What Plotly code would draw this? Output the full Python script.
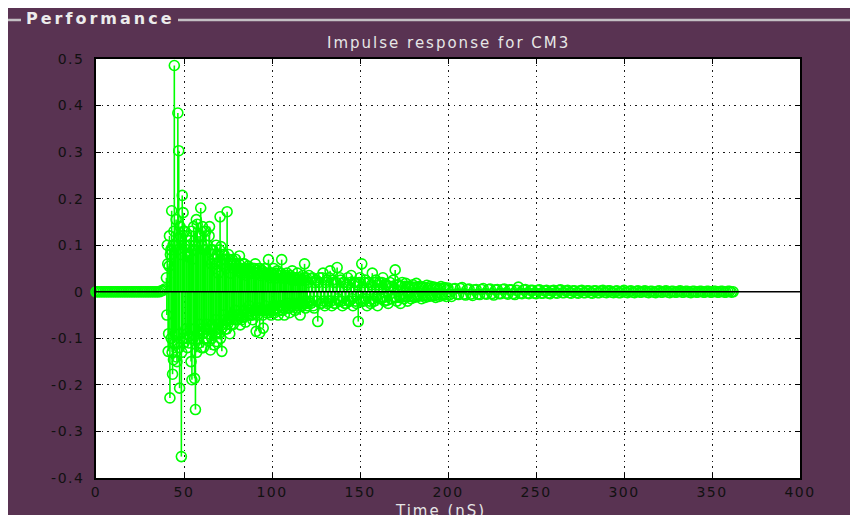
import plotly.graph_objects as go

# ---------------- data ----------------
lead_t = [
    0, 1, 2, 3, 4, 5, 6, 7, 8, 9,
    10, 11, 12, 13, 14, 15, 16, 17, 18, 19,
    20, 21, 22, 23, 24, 25, 26, 27, 28, 29,
    30, 31, 32, 33, 34, 35, 36, 37, 38, 39,
]
lead_amp = [
    0, 0, 0, 0, 0, 0, 0, 0, 0, 0,
    0, 0, 0, 0, 0, 0, 0, 0, 0, 0,
    0, 0, 0, 0, 0, 0, 0, 0, 0, 0,
    0, 0, 0, 0, 0, 0, 0, 0.002, 0.003, 0.006,
]

cluster_t = [
    40.0, 40.5, 41.0, 41.5, 42.0, 42.5, 43.0, 43.5, 44.0, 44.5,
    45.0, 45.5, 46.0, 46.5, 47.0, 47.5, 48.0, 48.5, 49.0, 49.5,
    50.0, 50.5, 51.0, 51.5, 52.0, 52.5, 53.0, 53.5, 54.0, 54.5,
    55.0, 55.5, 56.0, 56.5, 57.0, 57.5, 58.0, 58.5, 59.0, 59.5,
    60.0, 60.5, 61.0, 61.5, 62.0, 62.5, 63.0, 63.5, 64.0, 64.5,
    65.0, 65.5, 66.0, 66.5, 67.0, 67.5, 68.0, 68.5, 69.0, 69.5,
    70.0, 70.5, 71.0, 71.5, 72.0, 72.5, 73.0, 73.5, 74.0, 74.5,
    75.0, 75.5, 76.0, 76.5, 77.0, 77.5, 78.0, 78.5, 79.0, 79.5,
    80.0, 80.5, 81.0, 81.5, 82.0, 82.5, 83.0, 83.5, 84.0, 84.5,
    85.0, 85.5, 86.0, 86.5, 87.0, 87.5, 88.0, 88.5, 89.0, 89.5,
    90.0, 90.5, 91.0, 91.5, 92.0, 92.5, 93.0, 93.5, 94.0, 94.5,
    95.0, 95.5, 96.0, 96.5, 97.0, 97.5, 98.0, 98.5, 99.0, 99.5,
    100.0, 100.5, 101.0, 101.5, 102.0, 102.5, 103.0, 103.5, 104.0, 104.5,
    105.0, 105.5, 106.0, 106.5, 107.0, 107.5, 108.0, 108.5, 109.0, 109.5,
    110.0, 110.5, 111.0, 111.5, 112.0, 112.5, 113.0, 113.5, 114.0, 114.5,
    115.0, 115.5, 116.0, 116.5, 117.0, 117.5, 118.0, 118.5, 119.0, 119.5,
]
cluster_amp = [
    0.03, 0.1, -0.128, 0.055, -0.228, 0.09, 0.174, -0.177, -0.146, 0.486,
    -0.09, 0.155, -0.15, 0.384, 0.303, -0.207, 0.12, -0.354, 0.207, 0.17,
    -0.11, 0.13, -0.08, 0.1, -0.12, 0.075, -0.095, 0.11, -0.15, -0.189,
    0.09, 0.14, -0.186, -0.253, 0.155, 0.145, -0.1, 0.12, -0.07, 0.18,
    -0.12, 0.14, -0.12, 0.09, -0.08, 0.13, -0.1, 0.07, -0.09, 0.14,
    -0.125, 0.06, -0.07, 0.09, -0.114, 0.05, -0.06, -0.107, 0.08, 0.04,
    -0.09, 0.161, 0.097, -0.128, 0.06, -0.05, 0.07, -0.08, 0.05, 0.172,
    -0.06, 0.07, -0.09, 0.04, -0.05, 0.069, -0.07, 0.05, -0.04, 0.06,
    -0.06, 0.045, -0.05, 0.077, -0.071, 0.04, -0.055, 0.06, -0.04, 0.05,
    -0.065, 0.035, -0.045, 0.055, -0.03, 0.045, -0.05, 0.04, -0.06, 0.05,
    -0.04, 0.06, -0.085, 0.04, -0.035, 0.05, -0.088, 0.035, -0.04, 0.045,
    -0.078, 0.04, -0.03, 0.05, -0.045, 0.035, 0.069, -0.04, 0.03, -0.05,
    0.04, -0.03, 0.05, -0.045, 0.03, -0.035, 0.045, -0.05, 0.035, -0.03,
    0.04, 0.069, -0.04, 0.03, -0.05, 0.035, -0.03, 0.04, -0.035, 0.03,
    -0.045, 0.035, -0.03, 0.045, -0.025, 0.03, -0.04, 0.025, -0.035, 0.04,
    -0.03, 0.03, -0.05, 0.025, -0.03, 0.035, -0.025, 0.06, -0.035, 0.03,
]

# in-between samples of the dense cluster
cluster2_t = [
    40.25, 40.75, 41.25, 41.75, 42.25, 42.75, 43.25, 43.75, 44.25, 44.75,
    45.25, 45.75, 46.25, 46.75, 47.25, 47.75, 48.25, 48.75, 49.25, 49.75,
    50.25, 50.75, 51.25, 51.75, 52.25, 52.75, 53.25, 53.75, 54.25, 54.75,
    55.25, 55.75, 56.25, 56.75, 57.25, 57.75, 58.25, 58.75, 59.25, 59.75,
    60.25, 60.75, 61.25, 61.75, 62.25, 62.75, 63.25, 63.75, 64.25, 64.75,
    65.25, 65.75, 66.25, 66.75, 67.25, 67.75, 68.25, 68.75, 69.25, 69.75,
    70.25, 70.75, 71.25, 71.75, 72.25, 72.75, 73.25, 73.75, 74.25, 74.75,
    75.25, 75.75, 76.25, 76.75, 77.25, 77.75, 78.25, 78.75, 79.25, 79.75,
    80.25, 80.75, 81.25, 81.75, 82.25, 82.75, 83.25, 83.75, 84.25, 84.75,
    85.25, 85.75, 86.25, 86.75, 87.25, 87.75, 88.25, 88.75, 89.25, 89.75,
    90.25, 90.75, 91.25, 91.75, 92.25, 92.75, 93.25, 93.75, 94.25, 94.75,
    95.25, 95.75, 96.25, 96.75, 97.25, 97.75, 98.25, 98.75, 99.25, 99.75,
    100.25, 100.75, 101.25, 101.75, 102.25, 102.75, 103.25, 103.75, 104.25, 104.75,
    105.25, 105.75, 106.25, 106.75, 107.25, 107.75, 108.25, 108.75, 109.25, 109.75,
    110.25, 110.75, 111.25, 111.75, 112.25, 112.75, 113.25, 113.75, 114.25, 114.75,
    115.25, 115.75, 116.25, 116.75, 117.25, 117.75, 118.25, 118.75, 119.25, 119.75,
]
cluster2_amp = [
    -0.05, 0.06, -0.09, 0.12, 0.08, -0.1, -0.13, 0.1, 0.13, -0.11,
    0.1, -0.14, 0.09, -0.11, -0.12, 0.14, 0.08, -0.13, -0.1, 0.13,
    0.1, -0.1, 0.12, -0.09, 0.08, -0.11, 0.1, -0.08, 0.13, 0.07,
    -0.1, -0.08, 0.1, 0.09, -0.13, -0.09, 0.1, -0.11, 0.12, -0.08,
    0.1, -0.09, 0.13, -0.1, 0.09, -0.07, 0.1, -0.09, 0.12, -0.08,
    0.09, -0.1, 0.08, -0.08, 0.07, -0.09, 0.1, 0.06, -0.08, -0.07,
    0.09, -0.1, -0.08, 0.08, -0.07, 0.08, -0.06, 0.07, -0.08, -0.07,
    0.08, -0.06, 0.06, -0.07, 0.06, -0.05, 0.06, -0.06, 0.07, -0.05,
    0.05, -0.06, 0.06, -0.05, 0.05, -0.06, 0.05, -0.05, 0.06, -0.04,
    0.05, -0.05, 0.04, -0.05, 0.05, -0.04, 0.04, -0.05, 0.05, -0.04,
    0.05, -0.04, 0.04, -0.05, 0.04, -0.04, 0.05, -0.04, 0.04, -0.05,
    0.04, -0.04, 0.05, -0.04, 0.04, -0.04, 0.035, -0.045, 0.04, -0.035,
    0.035, -0.04, 0.035, -0.03, 0.04, -0.035, 0.03, -0.04, 0.035, -0.03,
    0.035, -0.03, 0.03, -0.035, 0.03, -0.03, 0.035, -0.025, 0.03, -0.035,
    0.03, -0.03, 0.025, -0.03, 0.03, -0.025, 0.03, -0.03, 0.025, -0.025,
    0.03, -0.025, 0.025, -0.03, 0.025, -0.025, 0.03, -0.02, 0.025, -0.025,
]

mid_t = [
    120.0, 120.5, 121.0, 121.5, 122.0, 122.5, 123.0, 123.5, 124.0, 124.5,
    125.0, 125.5, 126.0, 126.5, 127.0, 127.5, 128.0, 128.5, 129.0, 129.5,
    130.0, 130.5, 131.0, 131.5, 132.0, 132.5, 133.0, 133.5, 134.0, 134.5,
    135.0, 135.5, 136.0, 136.5, 137.0, 137.5, 138.0, 138.5, 139.0, 139.5,
    140.0, 140.5, 141.0, 141.5, 142.0, 142.5, 143.0, 143.5, 144.0, 144.5,
    145.0, 145.5, 146.0, 146.5, 147.0, 147.5, 148.0, 148.5, 149.0, 149.5,
    150.0, 150.5, 151.0, 151.5, 152.0, 152.5, 153.0, 153.5, 154.0, 154.5,
    155.0, 155.5, 156.0, 156.5, 157.0, 157.5, 158.0, 158.5, 159.0, 159.5,
    160.0, 160.5, 161.0, 161.5, 162.0, 162.5, 163.0, 163.5, 164.0, 164.5,
    165.0, 165.5, 166.0, 166.5, 167.0, 167.5, 168.0, 168.5, 169.0, 169.5,
    170.0, 170.5, 171.0, 171.5, 172.0, 172.5, 173.0, 173.5, 174.0, 174.5,
    175.0, 175.5, 176.0, 176.5, 177.0, 177.5, 178.0, 178.5, 179.0, 179.5,
    180.0, 180.5, 181.0, 181.5, 182.0, 182.5, 183.0, 183.5, 184.0, 184.5,
    185.0, 185.5, 186.0, 186.5, 187.0, 187.5, 188.0, 188.5, 189.0, 189.5,
    190.0, 190.5, 191.0, 191.5, 192.0, 192.5, 193.0, 193.5, 194.0, 194.5,
    195.0, 195.5, 196.0, 196.5, 197.0, 197.5, 198.0, 198.5, 199.0, 199.5,
]
mid_amp = [
    -0.03, 0.02, 0.035, -0.02, -0.025, 0.028, 0.03, -0.03, -0.035, 0.02,
    0.025, -0.02, -0.064, 0.02, 0.03, -0.025, -0.025, 0.03, 0.04, -0.02,
    -0.03, 0.02, 0.025, -0.025, -0.02, 0.03, 0.045, -0.02, -0.03, 0.025,
    0.02, -0.025, -0.025, 0.02, 0.052, -0.015, -0.02, 0.03, 0.025, -0.02,
    -0.03, 0.02, 0.02, -0.025, -0.025, 0.015, 0.03, -0.02, -0.02, 0.02,
    0.035, -0.015, -0.03, 0.02, 0.02, -0.02, -0.025, 0.015, -0.064, 0.02,
    0.03, -0.02, 0.06, -0.015, -0.02, 0.02, 0.025, -0.015, -0.03, 0.02,
    0.02, -0.02, -0.025, 0.015, 0.04, -0.015, -0.02, 0.02, 0.025, -0.012,
    -0.03, 0.015, 0.02, -0.015, -0.015, 0.02, 0.03, -0.012, -0.02, 0.015,
    0.015, -0.018, -0.025, 0.012, 0.02, -0.015, -0.015, 0.012, 0.025, -0.012,
    0.047, -0.012, -0.02, 0.015, 0.015, -0.012, -0.025, 0.012, 0.02, -0.01,
    -0.015, 0.012, 0.018, -0.01, -0.02, 0.01, 0.012, -0.01, -0.015, 0.01,
    0.015, -0.01, -0.012, 0.01, 0.018, -0.008, -0.01, 0.009, 0.012, -0.008,
    -0.015, 0.008, 0.01, -0.008, -0.012, 0.009, 0.014, -0.007, -0.01, 0.008,
    0.012, -0.007, -0.009, 0.008, 0.01, -0.008, -0.012, 0.007, 0.008, -0.006,
    -0.01, 0.007, 0.011, -0.006, -0.008, 0.007, 0.009, -0.006, -0.01, 0.006,
]

tail_t = [
    200, 201, 202, 203, 204, 205, 206, 207, 208, 209,
    210, 211, 212, 213, 214, 215, 216, 217, 218, 219,
    220, 221, 222, 223, 224, 225, 226, 227, 228, 229,
    230, 231, 232, 233, 234, 235, 236, 237, 238, 239,
    240, 241, 242, 243, 244, 245, 246, 247, 248, 249,
    250, 251, 252, 253, 254, 255, 256, 257, 258, 259,
    260, 261, 262, 263, 264, 265, 266, 267, 268, 269,
    270, 271, 272, 273, 274, 275, 276, 277, 278, 279,
    280, 281, 282, 283, 284, 285, 286, 287, 288, 289,
    290, 291, 292, 293, 294, 295, 296, 297, 298, 299,
    300, 301, 302, 303, 304, 305, 306, 307, 308, 309,
    310, 311, 312, 313, 314, 315, 316, 317, 318, 319,
    320, 321, 322, 323, 324, 325, 326, 327, 328, 329,
    330, 331, 332, 333, 334, 335, 336, 337, 338, 339,
    340, 341, 342, 343, 344, 345, 346, 347, 348, 349,
    350, 351, 352, 353, 354, 355, 356, 357, 358, 359,
    360, 361, 362,
]
tail_amp = [
    0.008, -0.006, -0.01, 0.006, 0.007, -0.005, -0.006, 0.007, 0.009, -0.005,
    -0.007, 0.005, 0.006, -0.005, -0.008, 0.004, 0.005, -0.005, -0.006, 0.005,
    0.007, -0.004, -0.005, 0.005, 0.006, -0.004, -0.007, 0.004, 0.005, -0.004,
    -0.004, 0.005, 0.006, -0.003, -0.005, 0.004, 0.004, -0.004, -0.006, 0.003,
    0.01, -0.003, -0.004, 0.004, 0.005, -0.003, -0.004, 0.003, 0.003, -0.003,
    -0.004, 0.003, 0.004, -0.003, -0.003, 0.002, 0.003, -0.003, -0.004, 0.002,
    0.003, -0.002, -0.003, 0.003, 0.004, -0.002, -0.002, 0.002, 0.003, -0.002,
    -0.003, 0.002, 0.002, -0.002, -0.003, 0.002, 0.003, -0.002, -0.002, 0.002,
    0.002, -0.002, -0.003, 0.002, 0.002, -0.002, -0.002, 0.002, 0.003, -0.001,
    -0.002, 0.002, 0.002, -0.001, -0.002, 0.001, 0.002, -0.002, -0.002, 0.001,
    0.003, -0.001, -0.002, 0.001, 0.002, -0.001, -0.002, 0.001, 0.002, -0.001,
    -0.001, 0.001, 0.002, -0.001, -0.002, 0.001, 0.001, -0.001, -0.002, 0.001,
    0.002, -0.001, -0.001, 0.001, 0.002, -0.001, -0.002, 0.001, 0.001, -0.001,
    -0.001, 0.001, 0.002, -0.001, -0.001, 0.001, 0.001, -0.001, -0.002, 0.001,
    0.001, -0.001, -0.001, 0.001, 0.001, -0.001, -0.001, 0.001, 0.001, -0.001,
    -0.001, 0.001, 0.001, -0.001, -0.001, 0.001, 0.001, -0.001, -0.001, 0.001,
    0.001, -0.001, 0.0,
]

x_ticks = [0, 50, 100, 150, 200, 250, 300, 350, 400]
x_tick_labels = ["0", "50", "100", "150", "200", "250", "300", "350", "400"]
y_ticks = [-0.4, -0.3, -0.2, -0.1, 0, 0.1, 0.2, 0.3, 0.4, 0.5]
y_tick_labels = ["-0.4", "-0.3", "-0.2", "-0.1", "0", "0.1", "0.2", "0.3", "0.4", "0.5"]

title_text = "Impulse response for CM3"
x_title = "Time (nS)"
panel_title = "Performance"

# ---------------- build ----------------
t_all = lead_t + cluster2_t + cluster_t + mid_t + tail_t
a_all = lead_amp + cluster2_amp + cluster_amp + mid_amp + tail_amp

stem_x, stem_y = [], []
for t, a in zip(t_all, a_all):
    stem_x += [t, t, None]
    stem_y += [0, a, None]

GREEN = "#00ff00"
PURPLE = "#593352"
FONT = "DejaVu Sans"


def spaced(s, px):
    return f'<span style="letter-spacing:{px}px">{s}</span>'


fig = go.Figure()
fig.add_trace(go.Scatter(x=stem_x, y=stem_y, mode="lines",
                         line=dict(color=GREEN, width=1.6), hoverinfo="skip"))
fig.add_trace(go.Scatter(x=t_all, y=a_all, mode="markers", cliponaxis=False,
                         marker=dict(symbol="circle-open", size=10, color=GREEN,
                                     line=dict(width=1.6, color=GREEN))))

W, H = 850, 515
L, R, T, B = 96, 50, 59, 37
pw, ph = W - L - R, H - T - B


def px_x(p):
    return (p - L) / pw


def px_y(p):
    return (H - B - p) / ph


shapes = [
    dict(type="rect", xref="paper", yref="paper", x0=px_x(0), x1=px_x(W), y0=px_y(8), y1=px_y(0),
         fillcolor="white", line=dict(width=0), layer="below"),
    dict(type="rect", xref="paper", yref="paper", x0=px_x(0), x1=px_x(8), y0=px_y(H), y1=px_y(0),
         fillcolor="white", line=dict(width=0), layer="below"),
    dict(type="line", xref="paper", yref="paper", x0=px_x(8), x1=px_x(21), y0=px_y(20), y1=px_y(20),
         line=dict(color="#c4c0c4", width=2.5)),
    dict(type="line", xref="paper", yref="paper", x0=px_x(178), x1=px_x(W), y0=px_y(20), y1=px_y(20),
         line=dict(color="#c4c0c4", width=2.5)),
    dict(type="line", xref="x domain", yref="y", x0=0, x1=1, y0=0, y1=0,
         line=dict(color="black", width=1.5), layer="above"),
]

annotations = [
    dict(text=spaced("<b>" + panel_title + "</b>", 3), xref="paper", yref="paper",
         x=px_x(24), y=px_y(18), xanchor="left", yanchor="middle", showarrow=False,
         font=dict(family=FONT, size=16, color="#ececec")),
    dict(text=spaced(title_text, 2), xref="paper", yref="paper",
         x=0.5, y=px_y(43), xanchor="center", yanchor="middle", showarrow=False,
         font=dict(family=FONT, size=15, color="#e6e6e6")),
    dict(text=spaced(x_title, 2), xref="paper", yref="paper",
         x=0.49, y=px_y(511), xanchor="center", yanchor="middle", showarrow=False,
         font=dict(family=FONT, size=15, color="#e6e6e6")),
]

axis_common = dict(
    ticks="inside", ticklen=5, tickcolor="black", tickwidth=1,
    showline=True, linecolor="black", linewidth=1.5, mirror="ticks",
    showgrid=True, gridcolor="#1a1a1a", gridwidth=1, griddash="1.5px,4px",
    zeroline=False, tickfont=dict(family=FONT, size=14, color="#111111"),
    fixedrange=True,
)

fig.update_layout(
    width=W, height=H,
    margin=dict(l=L, r=R, t=T, b=B, pad=0),
    paper_bgcolor=PURPLE, plot_bgcolor="white",
    showlegend=False,
    shapes=shapes, annotations=annotations,
    xaxis=dict(range=[0, 400], tickmode="array", tickvals=x_ticks,
               ticktext=[spaced(s, 1.5) for s in x_tick_labels],
               ticklabelstandoff=0, **axis_common),
    yaxis=dict(range=[-0.4, 0.5], tickmode="array", tickvals=y_ticks,
               ticktext=[spaced(s, 1.5) for s in y_tick_labels],
               ticklabelstandoff=7, **axis_common),
)

fig.write_html("out.html")
